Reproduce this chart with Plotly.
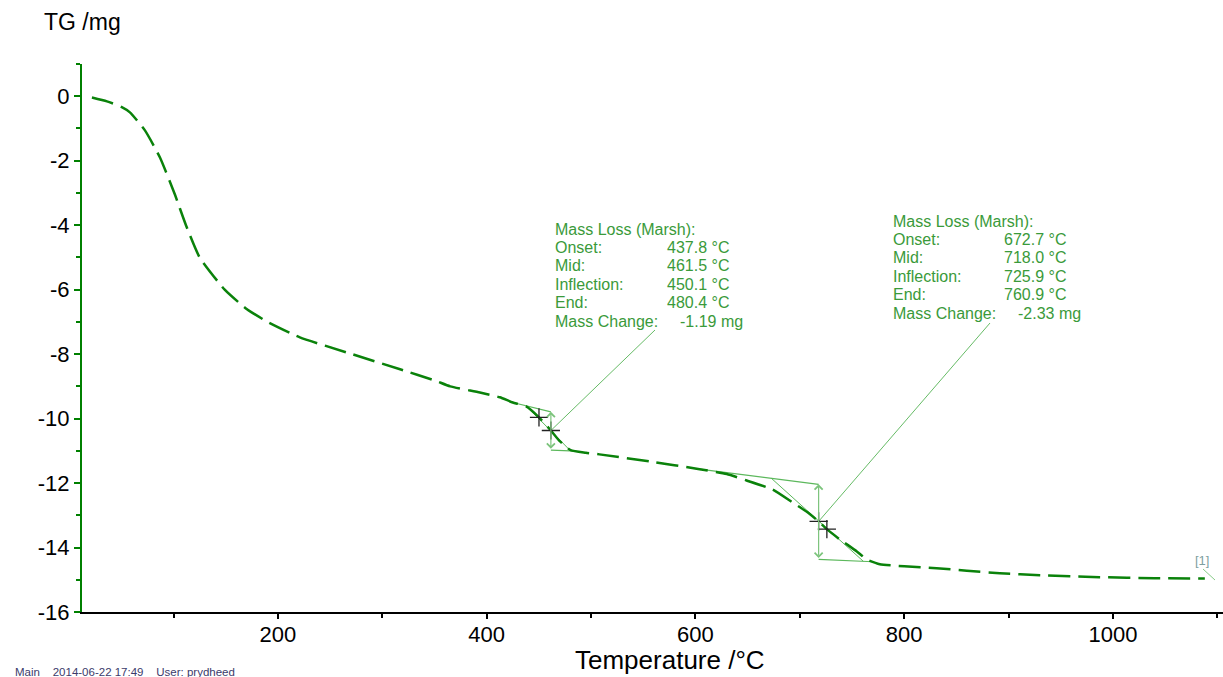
import numpy as np
import plotly.graph_objects as go

# TG curve: temperature (°C) and mass change (mg)
temp = [21.8, 36.2, 50.0, 58.2, 72.6, 87.0, 101.3, 111.9, 125.0, 149.0, 170.0,
        190.0, 221.0, 269.0, 317.0, 350.4, 365.0, 393.5, 412.6, 425.0, 437.8,
        450.1, 461.5, 470.0, 480.4, 495.0, 508.0, 556.0, 604.0, 630.0, 649.0,
        674.0, 693.0, 707.0, 718.0, 725.9, 738.0, 754.6, 764.0, 776.6, 800.0,
        831.0, 860.0, 891.6, 930.0, 987.0, 1040.0, 1088.0]
mass = [-0.04, -0.16, -0.33, -0.50, -1.06, -1.90, -3.05, -4.00, -5.00, -6.00, -6.60,
        -7.00, -7.48, -7.98, -8.47, -8.82, -9.00, -9.19, -9.34, -9.50, -9.62,
        -9.96, -10.37, -10.70, -10.98, -11.06, -11.11, -11.33, -11.57, -11.72, -11.92,
        -12.20, -12.60, -12.90, -13.19, -13.43, -13.74, -14.12, -14.37, -14.52, -14.58,
        -14.64, -14.72, -14.80, -14.86, -14.92, -14.95, -14.96]

# Mass-loss steps evaluated with the Marsh method
onset = [437.8, 672.7]
mid = [461.5, 718.0]
inflection = [450.1, 725.9]
end = [480.4, 760.9]
mass_change = [-1.19, -2.33]
upper_at_mid = [-9.79, -12.04]
baseline_start = [425.0, 600.0]
baseline_stop = [486.0, 770.0]

x_ticks = [200, 400, 600, 800, 1000]
x_tick_text = ["200", "400", "600", "800", "1000"]
y_ticks = [0, -2, -4, -6, -8, -10, -12, -14, -16]
y_tick_text = ["0", "-2", "-4", "-6", "-8", "-10", "-12", "-14", "-16"]

FONT = "Liberation Sans, Arial, sans-serif"
CURVE = "#0a820a"
AUX = "#5cb85c"
TEXT_GREEN = "#3a9a3a"

W, H = 1223, 677
ML, MR, MT, MB = 82, 0, 64, 65
X_RANGE = [12.3, 1105.4]
Y_RANGE = [-16.0, 1.0]


def px_to_x(px):
    return X_RANGE[0] + (px - ML) * (X_RANGE[1] - X_RANGE[0]) / (W - ML - MR)


def py_to_y(py):
    return Y_RANGE[1] - (py - MT) * (Y_RANGE[1] - Y_RANGE[0]) / (H - MT - MB)


def px_to_paper(px):
    return (px - ML) / (W - ML - MR)


def py_to_paper(py):
    return (H - MB - py) / (H - MT - MB)


fig = go.Figure()

curve_at = lambda t: float(np.interp(t, temp, mass))

annotations = []
for i in range(len(mid)):
    up_mid = upper_at_mid[i]
    lo_mid = up_mid + mass_change[i]
    x0u, y0u = baseline_start[i], curve_at(baseline_start[i])
    x1l, y1l = baseline_stop[i], curve_at(baseline_stop[i])
    # baseline equations
    su = (up_mid - y0u) / (mid[i] - x0u)
    sl = (y1l - lo_mid) / (x1l - mid[i])
    y_on = y0u + su * (onset[i] - x0u)
    y_end = lo_mid + sl * (end[i] - mid[i])

    # upper and lower baselines
    fig.add_trace(go.Scatter(x=[x0u, mid[i]], y=[y0u, up_mid], mode="lines",
                             line=dict(color=AUX, width=1.2), hoverinfo="skip"))
    fig.add_trace(go.Scatter(x=[mid[i], x1l], y=[lo_mid, y1l], mode="lines",
                             line=dict(color=AUX, width=1.2), hoverinfo="skip"))
    # inflection tangent
    fig.add_trace(go.Scatter(x=[onset[i], end[i]], y=[y_on, y_end], mode="lines",
                             line=dict(color=AUX, width=1), hoverinfo="skip"))
    # double arrow for the mass change
    annotations.append(dict(x=mid[i], y=up_mid, ax=mid[i], ay=lo_mid,
                            xref="x", yref="y", axref="x", ayref="y", text="",
                            showarrow=True, arrowhead=4, arrowside="end+start",
                            arrowsize=1.3, arrowwidth=1.2, arrowcolor="#7cc47c"))

# leader lines to the result blocks
block_label_px = [555, 893]
block_value_px = [667, 1004]
block_change_px = [680, 1018]
block_top_py = [229, 221]
row_step = 18.4
leader_end_px = [(655, 330), (990, 323)]
for i in range(len(mid)):
    lx, ly = leader_end_px[i]
    fig.add_trace(go.Scatter(x=[mid[i], px_to_x(lx)], y=[curve_at(mid[i]), py_to_y(ly)],
                             mode="lines", line=dict(color="#66bb66", width=1),
                             hoverinfo="skip"))

# TG curve
fig.add_trace(go.Scatter(x=temp, y=mass, mode="lines",
                         line=dict(color=CURVE, width=2.5, dash="22px,8px",
                                   shape="spline", smoothing=0.5),
                         hoverinfo="skip"))

# characteristic points (inflection, mid)
cx = inflection + mid
fig.add_trace(go.Scatter(x=cx, y=[curve_at(t) for t in cx], mode="markers",
                         marker=dict(symbol="cross-thin", size=13,
                                     line=dict(color="#222222", width=1.3)),
                         hoverinfo="skip"))

# curve label leader
fig.add_trace(go.Scatter(x=[px_to_x(1203), px_to_x(1215)], y=[py_to_y(569), py_to_y(580)],
                         mode="lines", line=dict(color="#88cc88", width=1),
                         hoverinfo="skip"))

for i in range(len(mid)):
    labels = ["Mass Loss (Marsh):", "Onset:", "Mid:", "Inflection:", "End:", "Mass Change:"]
    values = [None, f"{onset[i]:.1f} °C", f"{mid[i]:.1f} °C", f"{inflection[i]:.1f} °C",
              f"{end[i]:.1f} °C", f"{mass_change[i]:.2f} mg"]
    for r, lab in enumerate(labels):
        yy = py_to_y(block_top_py[i] + r * row_step)
        annotations.append(dict(x=px_to_x(block_label_px[i] - 2), y=yy, xref="x", yref="y",
                                text=lab, showarrow=False, xanchor="left", yanchor="middle",
                                font=dict(family=FONT, size=16, color=TEXT_GREEN)))
        if values[r] is not None:
            vx = block_change_px[i] if r == 5 else block_value_px[i]
            annotations.append(dict(x=px_to_x(vx - 2), y=yy, xref="x", yref="y",
                                    text=values[r], showarrow=False, xanchor="left",
                                    yanchor="middle",
                                    font=dict(family=FONT, size=16, color=TEXT_GREEN)))

annotations.append(dict(x=px_to_x(1193), y=py_to_y(560), xref="x", yref="y", text="[1]",
                        showarrow=False, xanchor="left", yanchor="middle",
                        font=dict(family=FONT, size=13, color="#7f9f9f")))

# axis titles and footer
annotations.append(dict(x=px_to_paper(42), y=py_to_paper(22), xref="paper", yref="paper",
                        text="TG /mg", showarrow=False, xanchor="left", yanchor="middle",
                        font=dict(family=FONT, size=23, color="black")))
annotations.append(dict(x=px_to_paper(670), y=py_to_paper(660), xref="paper", yref="paper",
                        text="Temperature /°C", showarrow=False, xanchor="center",
                        yanchor="middle", font=dict(family=FONT, size=26, color="black")))
annotations.append(dict(x=px_to_paper(13), y=py_to_paper(672), xref="paper", yref="paper",
                        text="Main    2014-06-22 17:49    User: prydheed", showarrow=False,
                        xanchor="left", yanchor="middle",
                        font=dict(family=FONT, size=11.5, color="#3b3b6b")))

fig.update_layout(
    width=W, height=H,
    margin=dict(l=ML, r=MR, t=MT, b=MB),
    paper_bgcolor="white", plot_bgcolor="white",
    showlegend=False,
    annotations=annotations,
    xaxis=dict(range=X_RANGE, showgrid=False, zeroline=False,
               showline=True, linecolor="black", linewidth=2,
               tickvals=x_ticks, ticktext=x_tick_text,
               ticks="outside", ticklen=5, tickwidth=1.5, tickcolor="black",
               ticklabelstandoff=-3,
               tickfont=dict(family=FONT, size=22, color="black"),
               minor=dict(dtick=100, tick0=0, ticks="outside", ticklen=4,
                          tickcolor="black", tickwidth=1.5)),
    yaxis=dict(range=Y_RANGE, showgrid=False, zeroline=False,
               showline=True, linecolor="#008000", linewidth=2,
               tickvals=y_ticks, ticktext=y_tick_text,
               ticks="outside", ticklen=6, tickwidth=1.5, tickcolor="#008000",
               tickfont=dict(family=FONT, size=22, color="black"),
               minor=dict(dtick=1, tick0=0, ticks="outside", ticklen=4,
                          tickcolor="#008000", tickwidth=1.5)),
)

fig.write_html("out.html")
